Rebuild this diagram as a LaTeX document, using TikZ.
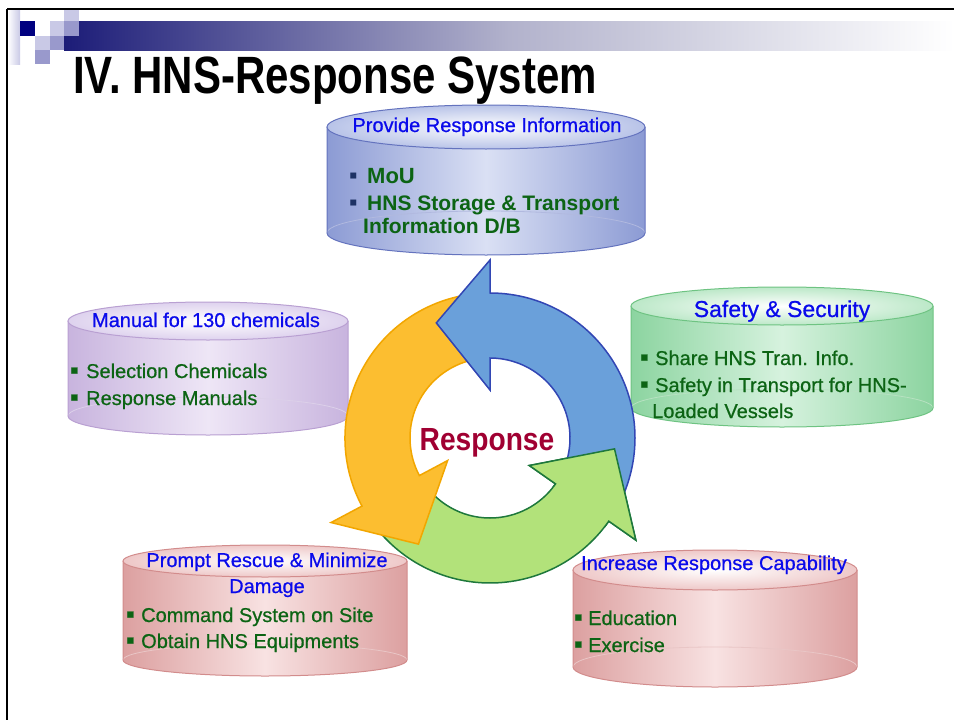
\documentclass[tikz,border=0pt]{standalone}
\usepackage{fontspec}
\setmainfont{Liberation Sans}
\newfontfamily\bodyfont[FakeBold=0.7]{Liberation Sans}
\newfontfamily\titlefont[FakeStretch=0.8]{Liberation Sans}
\newfontfamily\respfont[FakeStretch=0.88]{Liberation Sans}
\usepackage{tikz}
\usetikzlibrary{positioning}

\definecolor{navy}{RGB}{0,0,128}
\definecolor{lav}{RGB}{201,201,230}
\definecolor{lavmid}{RGB}{153,153,204}
\definecolor{barleft}{RGB}{28,28,120}
\definecolor{barmid}{RGB}{178,178,204}
\definecolor{headblue}{RGB}{10,10,235}
\definecolor{itemgreen}{RGB}{12,100,20}
\definecolor{dotnavy}{RGB}{30,50,100}
\definecolor{respred}{RGB}{160,0,50}
\definecolor{blu-dk}{RGB}{140,155,212}
\definecolor{blu-lt}{RGB}{218,224,244}
\definecolor{blu-ln}{RGB}{100,115,190}
\definecolor{blu-tp}{RGB}{184,195,232}
\definecolor{pur-dk}{RGB}{200,180,222}
\definecolor{pur-lt}{RGB}{238,230,246}
\definecolor{pur-ln}{RGB}{185,160,210}
\definecolor{pur-tp}{RGB}{222,210,238}
\definecolor{grn-dk}{RGB}{140,212,160}
\definecolor{grn-lt}{RGB}{214,242,222}
\definecolor{grn-ln}{RGB}{110,195,130}
\definecolor{grn-tp}{RGB}{188,232,200}
\definecolor{pnk-dk}{RGB}{220,160,160}
\definecolor{pnk-lt}{RGB}{248,226,226}
\definecolor{pnk-ln}{RGB}{210,140,140}
\definecolor{pnk-tp}{RGB}{238,200,200}
\definecolor{arrblue}{RGB}{106,160,218}
\definecolor{arrblueln}{RGB}{50,70,180}
\definecolor{arryel}{RGB}{252,190,48}
\definecolor{arryelln}{RGB}{242,166,0}
\definecolor{arrgrn}{RGB}{178,226,122}
\definecolor{arrgrnln}{RGB}{30,120,60}

\newcommand{\drum}[6]{%
  \path[left color=#6-dk, right color=#6-dk, middle color=#6-lt]
    (#1-#4,#2) -- (#1-#4,#3) arc[start angle=180, end angle=0, x radius=#4, y radius=#5] -- (#1+#4,#2) -- cycle;
  \draw[#6-ln!50, line width=0.8pt] (#1-#4,#3) arc[start angle=180, end angle=360, x radius=#4, y radius=#5];
  \draw[#6-ln, line width=1pt]
    (#1-#4,#2) -- (#1-#4,#3) arc[start angle=180, end angle=0, x radius=#4, y radius=#5] -- (#1+#4,#2);
  \path[inner color=white, outer color=#6-tp] (#1,#2) ellipse[x radius=#4, y radius=#5];
  \draw[#6-ln, line width=1pt] (#1,#2) ellipse[x radius=#4, y radius=#5];
}
\newcommand{\sq}[2][14pt]{\makebox[#1][l]{\textcolor{#2}{\fontsize{24}{24}\selectfont ▪}}}

\tikzset{
  hd/.style={text=headblue, font=\bodyfont\fontsize{20}{24}\selectfont, inner sep=0pt, anchor=base},
  itm/.style={text=itemgreen, font=\bodyfont\fontsize{20}{24}\selectfont, inner sep=0pt, anchor=base west},
  ring/.style={line width=1.5pt, line join=miter}
}

\begin{document}
\begin{tikzpicture}[x=1pt,y=-1pt]
  \useasboundingbox (0,0) rectangle (954,720);

  \fill[left color=barleft, right color=white, middle color=barmid] (64,21) rectangle (954,50);
  \fill[left color=white, right color=lav] (8,10) rectangle (20,64);
  \fill[lav] (64,10) rectangle (79,21);
  \fill[navy] (20,21) rectangle (35,36);
  \fill[lav] (50,21) rectangle (64,36);
  \fill[lavmid] (64,21) rectangle (79,36);
  \fill[lav] (35,36) rectangle (50,50);
  \fill[lavmid] (50,36) rectangle (64,50);
  \fill[lavmid] (35,50) rectangle (50,64);
  \draw[line width=2.5pt] (7,9) -- (954,9);
  \draw[line width=2.5pt] (7,9) -- (7,720);

  \node[anchor=base west, inner sep=0pt, font=\titlefont\bfseries\fontsize{52.5}{60}\selectfont] (title) at (73,93) {IV. HNS-Response System};

  \drum{486}{127}{233}{159}{22}{blu}
  \drum{208}{321}{416}{140}{19}{pur}
  \drum{782}{306}{408}{151}{19}{grn}
  \drum{265}{561}{660}{142}{16}{pnk}
  \drum{715}{570}{667}{142}{20}{pnk}

  \begin{scope}[shift={(490,438)}, yscale=-1]
    \draw[ring, fill=arrgrn, draw=arrgrnln] (210:80) arc[start angle=210, end angle=325, radius=80]
      -- (325:48) -- (355:125) -- (325:178) -- (325:145) arc[start angle=325, end angle=210, radius=145] -- cycle;
    \draw[ring, fill=arryel, draw=arryelln] (92:80) arc[start angle=92, end angle=208, radius=80]
      -- (208:48) -- (236:128) -- (208:180) -- (208:145) arc[start angle=208, end angle=92, radius=145] -- cycle;
    \draw[ring, fill=arrblue, draw=arrblueln] (-33:80) arc[start angle=-33, end angle=90, radius=80]
      -- (90:48) -- (115:127) -- (90:178) -- (90:145) arc[start angle=90, end angle=-33, radius=145] -- cycle;
    \begin{scope}
      \clip (0,0) -- (-38:220) arc[start angle=-38, end angle=5, radius=220] -- cycle;
      \draw[ring, fill=arrgrn, draw=arrgrnln] (210:80) arc[start angle=210, end angle=325, radius=80]
        -- (325:48) -- (355:125) -- (325:178) -- (325:145) arc[start angle=325, end angle=210, radius=145] -- cycle;
    \end{scope}
  \end{scope}

  \node[anchor=base, inner sep=0pt, text=respred, font=\respfont\bfseries\fontsize{32}{36}\selectfont] (resp) at (487,450) {Response};

  \node[hd] (infoHd) at (487,132) {Provide Response Information};
  \node[itm, font=\bfseries\fontsize{22}{26}\selectfont] (infoMou) at (349,183) {\sq[18pt]{dotnavy}MoU};
  \node[itm, font=\bfseries\fontsize{21}{25}\selectfont] (infoDb) at (349,210) {\sq[18pt]{dotnavy}HNS Storage \& Transport};
  \node[itm, font=\bfseries\fontsize{21}{25}\selectfont] (infoDb2) at (363,233) {Information D/B};

  \node[hd] (manHd) at (206,327) {Manual for 130 chemicals};
  \node[itm] (manSel) at (70,378) {\sq[16pt]{itemgreen}Selection Chemicals};
  \node[itm] (manResp) at (70,405) {\sq[16pt]{itemgreen}Response Manuals};

  \node[hd, font=\bodyfont\fontsize{23}{27}\selectfont] (safeHd) at (782,317) {Safety \& Security};
  \node[itm] (safeShare) at (640,365) {\sq[15pt]{itemgreen}Share HNS Tran. Info.};
  \node[itm] (safeTrans) at (640,392) {\sq[15pt]{itemgreen}Safety in Transport for HNS-};
  \node[itm] (safeTrans2) at (652,418) {Loaded Vessels};

  \node[hd] (rescHd) at (267,567) {Prompt Rescue \& Minimize};
  \node[hd] (rescHd2) at (267,593) {Damage};
  \node[itm] (rescCmd) at (126,622) {\sq[15pt]{itemgreen}Command System on Site};
  \node[itm] (rescEqp) at (126,648) {\sq[15pt]{itemgreen}Obtain HNS Equipments};

  \node[hd] (capHd) at (714,570) {Increase Response Capability};
  \node[itm] (capEdu) at (574,625) {\sq[14pt]{itemgreen}Education};
  \node[itm] (capExe) at (574,652) {\sq[14pt]{itemgreen}Exercise};
\end{tikzpicture}
\end{document}
